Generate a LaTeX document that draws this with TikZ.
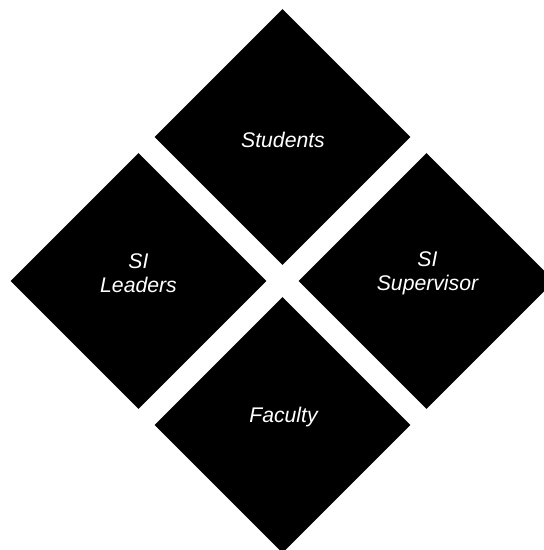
\documentclass[tikz,border=0pt]{standalone}
\usepackage{fontspec}
\setmainfont{Liberation Sans}
\usetikzlibrary{shapes.geometric}
\tikzset{
  petal/.style={diamond, aspect=1, fill=black, draw=none, inner sep=0pt,
    minimum width=256pt, minimum height=256pt},
  petaltext/.style={text=white, align=center, inner sep=0pt,
    font=\fontsize{21.2pt}{24pt}\selectfont\itshape}
}
\begin{document}
\begin{tikzpicture}[x=1pt,y=-1pt]
\useasboundingbox (0,0) rectangle (544,550);
\clip (0,0) rectangle (544,550);
\node[petal] (students) at (282.5,137) {};
\node[petal] (leaders) at (138.5,281) {};
\node[petal] (supervisor) at (426.5,281) {};
\node[petal] (faculty) at (282.5,425) {};
\node[petaltext] (tstudents) at (283,140) {Students};
\node[petaltext] (tleaders) at (138.5,273) {SI\\Leaders};
\node[petaltext] (tsupervisor) at (427.5,273) {SI\\Supervisor};
\node[petaltext] (tfaculty) at (283.5,417) {Faculty};
\end{tikzpicture}
\end{document}
